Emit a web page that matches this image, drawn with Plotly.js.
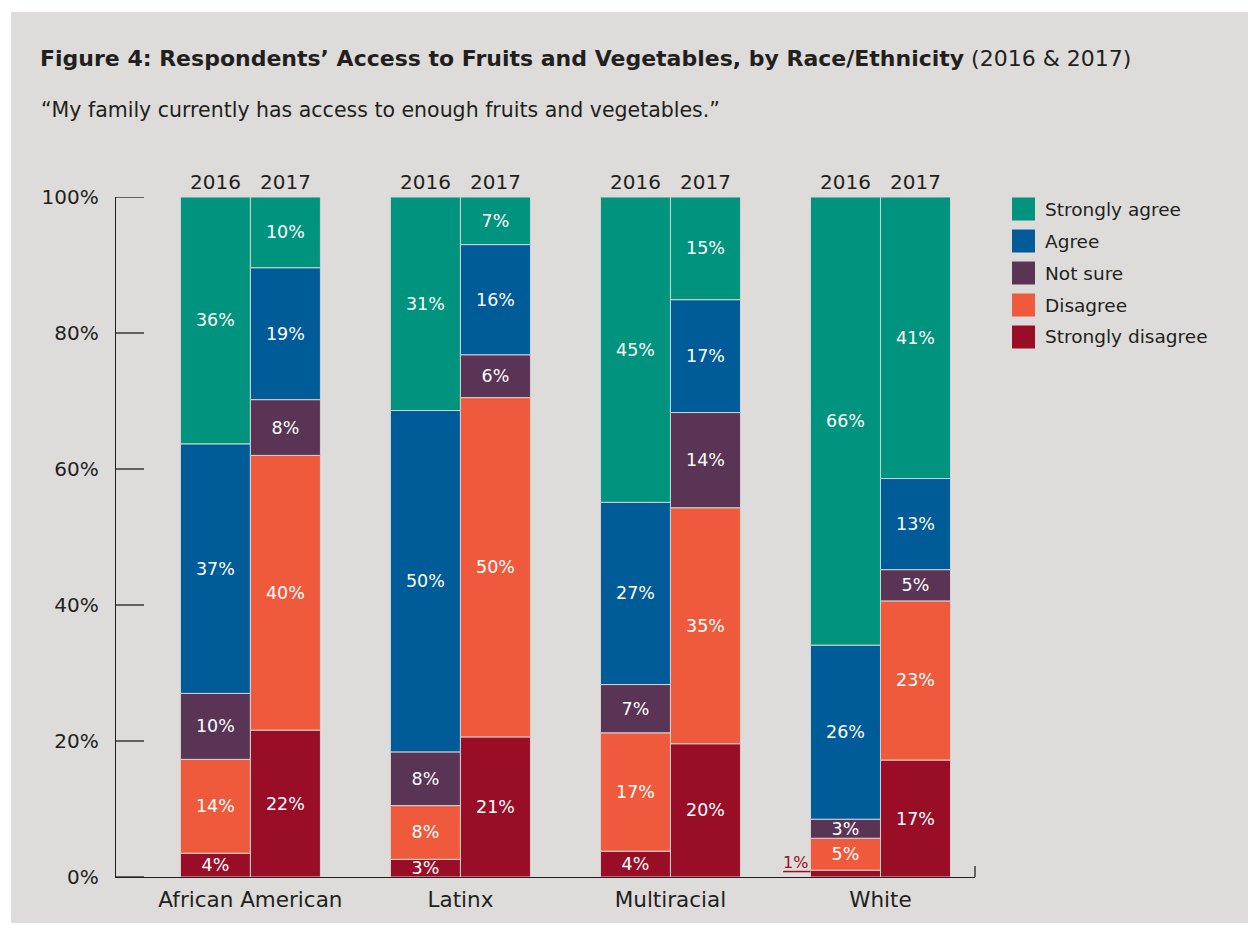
<!DOCTYPE html>
<html>
<head>
<meta charset="utf-8">
<script src="https://cdn.plot.ly/plotly-3.0.1.min.js"></script>
<style>
  html, body { margin: 0; padding: 0; background: #ffffff; }
  #chart { position: absolute; left: 11px; top: 12px; width: 1237px; height: 911px; }
</style>
</head>
<body>
<div id="chart"></div>
<script>
// ---- Data ----
const categories = ['African American', 'Latinx', 'Multiracial', 'White'];
const years = ['2016', '2017'];
const seriesNames = ['Strongly disagree', 'Disagree', 'Not sure', 'Agree', 'Strongly agree']; // bottom -> top
const seriesColors = ['#990d27', '#ee5a3b', '#593454', '#005b99', '#00937e'];

// 2016 values (%)
const stronglyDisagree2016 = [3.5, 2.6, 3.8, 1.0];
const disagree2016         = [13.8, 7.9, 17.4, 4.7];
const notSure2016          = [9.7, 7.9, 7.1, 2.8];
const agree2016            = [36.7, 50.2, 26.8, 25.6];
const stronglyAgree2016    = [36.3, 31.4, 44.9, 65.9];

// 2017 values (%)
const stronglyDisagree2017 = [21.6, 20.6, 19.6, 17.2];
const disagree2017         = [40.4, 49.9, 34.7, 23.4];
const notSure2017          = [8.2, 6.3, 14.0, 4.6];
const agree2017            = [19.4, 16.2, 16.6, 13.4];
const stronglyAgree2017    = [10.4, 7.0, 15.1, 41.4];

const yTickValues = [0, 20, 40, 60, 80, 100];
const yTickLabels = yTickValues.map(v => v + '%');

const valuesByYear = {
  '2016': [stronglyDisagree2016, disagree2016, notSure2016, agree2016, stronglyAgree2016],
  '2017': [stronglyDisagree2017, disagree2017, notSure2017, agree2017, stronglyAgree2017]
};

// ---- Styling ----
const FONT = 'DejaVu Sans, Open Sans, sans-serif';
const TXT = '#231f20';
const BG = '#dddcda';
const SEP = '#d3d3d1';

const traces = [];
const smallLabels = [];
years.forEach((yr, yi) => {
  const base = categories.map(() => 0);
  valuesByYear[yr].forEach((vals, si) => {
    const bases = base.slice();
    const text = vals.map((v, ci) => {
      if (v < 2) { smallLabels.push({ci: ci, yi: yi, v: v, color: seriesColors[si], base: bases[ci]}); return ''; }
      return Math.round(v) + '%';
    });
    traces.push({
      type: 'bar',
      x: categories,
      y: vals,
      base: bases,
      offsetgroup: yr,
      name: seriesNames[si],
      showlegend: false,
      marker: { color: seriesColors[si], line: { color: SEP, width: 1 } },
      text: text,
      textposition: 'inside',
      insidetextanchor: 'middle',
      textangle: 0,
      textfont: { color: '#ffffff', size: 17.5, family: FONT },
      hoverinfo: 'x+y+name'
    });
    vals.forEach((v, ci) => { base[ci] += v; });
  });
});

// ---- Geometry helpers (div pixel -> paper) ----
const W = 1237, H = 911;
const M = { l: 105, r: 273, t: 185, b: 46 };
const PW = W - M.l - M.r, PH = H - M.t - M.b;
const pxX = px => (px - M.l) / PW;
const pxY = py => 1 - (py - M.t) / PH;

const annotations = [];
const shapes = [];

// Subtitle
annotations.push({
  xref: 'paper', yref: 'paper', x: pxX(28), y: pxY(98), xanchor: 'left', yanchor: 'middle',
  text: '“My family currently has access to enough fruits and vegetables.”',
  showarrow: false, font: { family: FONT, size: 20.5, color: TXT }
});

// Year labels above each bar pair
categories.forEach((c, ci) => {
  years.forEach((yr, yi) => {
    annotations.push({
      xref: 'x', yref: 'y', x: ci, y: 100, xshift: yi === 0 ? -35 : 35, yshift: 1,
      xanchor: 'center', yanchor: 'bottom', text: yr, showarrow: false,
      font: { family: FONT, size: 20, color: TXT }
    });
  });
});

// Outside labels for very small segments (e.g. 1%)
smallLabels.forEach(s => {
  const leftEdge = s.ci - (s.yi === 0 ? 1/3 : 0);
  annotations.push({
    xref: 'x', yref: 'y', x: leftEdge - 0.14, y: s.base + s.v / 2, yshift: 11,
    xanchor: 'left', yanchor: 'middle', text: Math.round(s.v) + '%', showarrow: false,
    font: { family: FONT, size: 16, color: s.color }
  });
  shapes.push({
    type: 'line', xref: 'x', yref: 'y', x0: leftEdge - 0.13, x1: leftEdge,
    y0: s.base + s.v / 2 + 0.3, y1: s.base + s.v / 2 + 0.3,
    line: { color: s.color, width: 1.5 }
  });
});

// Y-axis tick marks (inside, pointing right)
yTickValues.forEach(v => {
  shapes.push({
    type: 'line', xref: 'paper', yref: 'y', x0: 0, x1: pxX(105 + 28), y0: v, y1: v,
    line: { color: TXT, width: 1.3 }
  });
});

// Custom legend (top -> bottom: Strongly agree ... Strongly disagree)
for (let k = 0; k < seriesNames.length; k++) {
  const si = seriesNames.length - 1 - k;
  const cy = 197 + 32 * k; // div px
  shapes.push({
    type: 'rect', xref: 'paper', yref: 'paper',
    x0: pxX(1001), x1: pxX(1024), y0: pxY(cy - 11.5), y1: pxY(cy + 11.5),
    fillcolor: seriesColors[si], line: { width: 0 }
  });
  annotations.push({
    xref: 'paper', yref: 'paper', x: pxX(1032), y: pxY(cy), xanchor: 'left', yanchor: 'middle',
    text: seriesNames[si], showarrow: false, font: { family: FONT, size: 18.5, color: TXT }
  });
}

// Right end tick of the x axis
shapes.push({
  type: 'line', xref: 'paper', yref: 'paper', x0: 1, x1: 1, y0: 0, y1: pxY(M.t + PH - 11),
  line: { color: TXT, width: 1.3 }
});

const layout = {
  width: W, height: H,
  margin: M,
  paper_bgcolor: BG, plot_bgcolor: BG,
  barmode: 'group', bargap: 1/3, bargroupgap: 0,
  showlegend: false,
  title: {
    text: '<b>Figure 4: Respondents’ Access to Fruits and Vegetables, by Race/Ethnicity</b> (2016 & 2017)',
    xref: 'container', yref: 'container', x: 29 / W, xanchor: 'left', y: 1 - 46 / H, yanchor: 'middle',
    font: { family: FONT, size: 22, color: TXT }
  },
  font: { family: FONT, color: TXT },
  xaxis: {
    type: 'category', range: [-0.64, 3.45], showline: true, linecolor: TXT, linewidth: 1.3,
    ticks: '', showgrid: false, zeroline: false, fixedrange: true,
    ticklabelstandoff: 3,
    tickfont: { family: FONT, size: 21.5, color: TXT }
  },
  yaxis: {
    range: [0, 100], tickvals: yTickValues, ticktext: yTickLabels,
    ticks: '', showline: true, linecolor: TXT, linewidth: 1.3, showgrid: false, zeroline: false, fixedrange: true,
    ticklabelstandoff: 12,
    tickfont: { family: FONT, size: 20, color: TXT }
  },
  uniformtext: { mode: 'show', minsize: 17.5 },
  annotations: annotations,
  shapes: shapes
};

Plotly.newPlot('chart', traces, layout, { displayModeBar: false, staticPlot: true });
</script>
</body>
</html>
